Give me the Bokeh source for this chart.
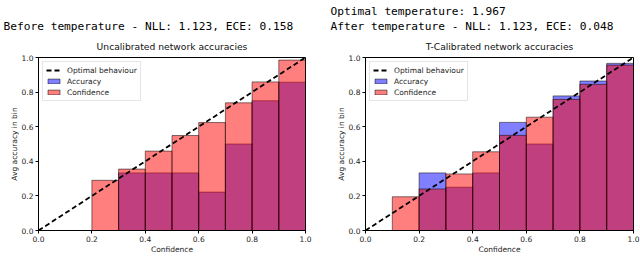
from bokeh.plotting import figure
from bokeh.models import Title, Legend, LegendItem, ColumnDataSource
from bokeh.layouts import row
from bokeh.embed import file_html
from bokeh.resources import INLINE

# ---- data ----
bin_lefts = [0.0, 0.1, 0.2, 0.3, 0.4, 0.5, 0.6, 0.7, 0.8, 0.9]
bin_width = 0.1

uncal_accuracy = [0.0, 0.0, 0.0, 0.333, 0.333, 0.333, 0.222, 0.5, 0.75, 0.857]
uncal_confidence = [0.0, 0.0, 0.29, 0.355, 0.459, 0.549, 0.624, 0.738, 0.859, 0.985]

cal_accuracy = [0.0, 0.0, 0.333, 0.25, 0.333, 0.625, 0.5, 0.778, 0.864, 0.966]
cal_confidence = [0.0, 0.195, 0.24, 0.327, 0.455, 0.55, 0.655, 0.758, 0.845, 0.956]

optimal_x = [0.0, 1.0]
optimal_y = [0.0, 1.0]

tick_values = [0.0, 0.2, 0.4, 0.6, 0.8, 1.0]
tick_labels = ["0.0", "0.2", "0.4", "0.6", "0.8", "1.0"]

left_headers = ["Before temperature - NLL: 1.123, ECE: 0.158"]
right_headers = ["Optimal temperature: 1.967",
                 "After temperature - NLL: 1.123, ECE: 0.048"]
titles = ["Uncalibrated network accuracies", "T-Calibrated network accuracies"]

MONO = "DejaVu Sans Mono"
SANS = "DejaVu Sans"


def make_panel(title, headers, acc, conf, width, border_left, border_right, header_offset):
    p = figure(width=width, height=256, x_range=(0, 1), y_range=(0, 1),
               output_backend="svg", toolbar_location=None, title=None,
               min_border_left=border_left, min_border_right=border_right,
               min_border_top=57, min_border_bottom=26)
    centers = [b + bin_width / 2 for b in bin_lefts]
    src = ColumnDataSource(dict(x=centers, acc=acc, conf=conf))
    r_acc = p.vbar(x="x", top="acc", width=bin_width, source=src,
                   fill_color="blue", fill_alpha=0.5,
                   line_color="black", line_alpha=0.5, line_width=1)
    r_conf = p.vbar(x="x", top="conf", width=bin_width, source=src,
                    fill_color="red", fill_alpha=0.5,
                    line_color="black", line_alpha=0.5, line_width=1)
    r_line = p.line(optimal_x, optimal_y, line_color="black", line_width=1.8,
                    line_dash="5 3")

    legend = Legend(items=[
        LegendItem(label="Optimal behaviour", renderers=[r_line]),
        LegendItem(label="Accuracy", renderers=[r_acc]),
        LegendItem(label="Confidence", renderers=[r_conf]),
    ], location="top_left")
    legend.label_text_font = SANS
    legend.label_text_font_size = "7.5px"
    legend.label_text_color = "#222222"
    legend.label_height = 10
    legend.glyph_height = 6
    legend.glyph_width = 15
    legend.padding = 3
    legend.spacing = 1
    legend.margin = 4
    legend.label_standoff = 6
    legend.border_line_color = "#cccccc"
    legend.background_fill_alpha = 0.9
    p.add_layout(legend)

    p.add_layout(Title(text=title, align="center", text_font=SANS,
                       text_font_size="9.2px", text_font_style="normal",
                       text_color="#111111", standoff=11), "above")
    standoffs = [1, 0]
    for i, h in enumerate(reversed(headers)):
        p.add_layout(Title(text=h, align="left", text_font=MONO,
                           text_font_size="11.2px", text_font_style="normal",
                           text_color="black", standoff=standoffs[i],
                           offset=header_offset), "above")

    for ax in (p.xaxis[0], p.yaxis[0]):
        ax.ticker = tick_values
        ax.major_label_overrides = dict(zip(tick_values, tick_labels))
        ax.major_label_text_font = SANS
        ax.major_label_text_font_size = "7.5px"
        ax.major_label_text_color = "#222222"
        ax.axis_label_text_font = SANS
        ax.axis_label_text_font_size = "7.5px"
        ax.axis_label_text_font_style = "normal"
        ax.axis_label_text_color = "#222222"
        ax.axis_line_color = "black"
        ax.major_tick_line_color = "black"
        ax.minor_tick_line_color = None
        ax.major_tick_in = 0
        ax.major_tick_out = 3
        ax.major_label_standoff = 2
        ax.axis_label_standoff = 0
    p.xaxis.axis_label = "Confidence"
    p.yaxis.axis_label = "Avg accuracy in bin"
    p.xgrid.visible = False
    p.ygrid.visible = False
    p.outline_line_color = "black"
    p.outline_line_alpha = 1
    p.background_fill_color = "white"
    p.border_fill_color = "white"
    return p


p1 = make_panel(titles[0], left_headers, uncal_accuracy, uncal_confidence,
                320, 38, 15, -35)
p2 = make_panel(titles[1], right_headers, cal_accuracy, cal_confidence,
                320, 45, 7, -35)

layout = row(p1, p2)
open("out.html", "w").write(file_html(layout, INLINE))
